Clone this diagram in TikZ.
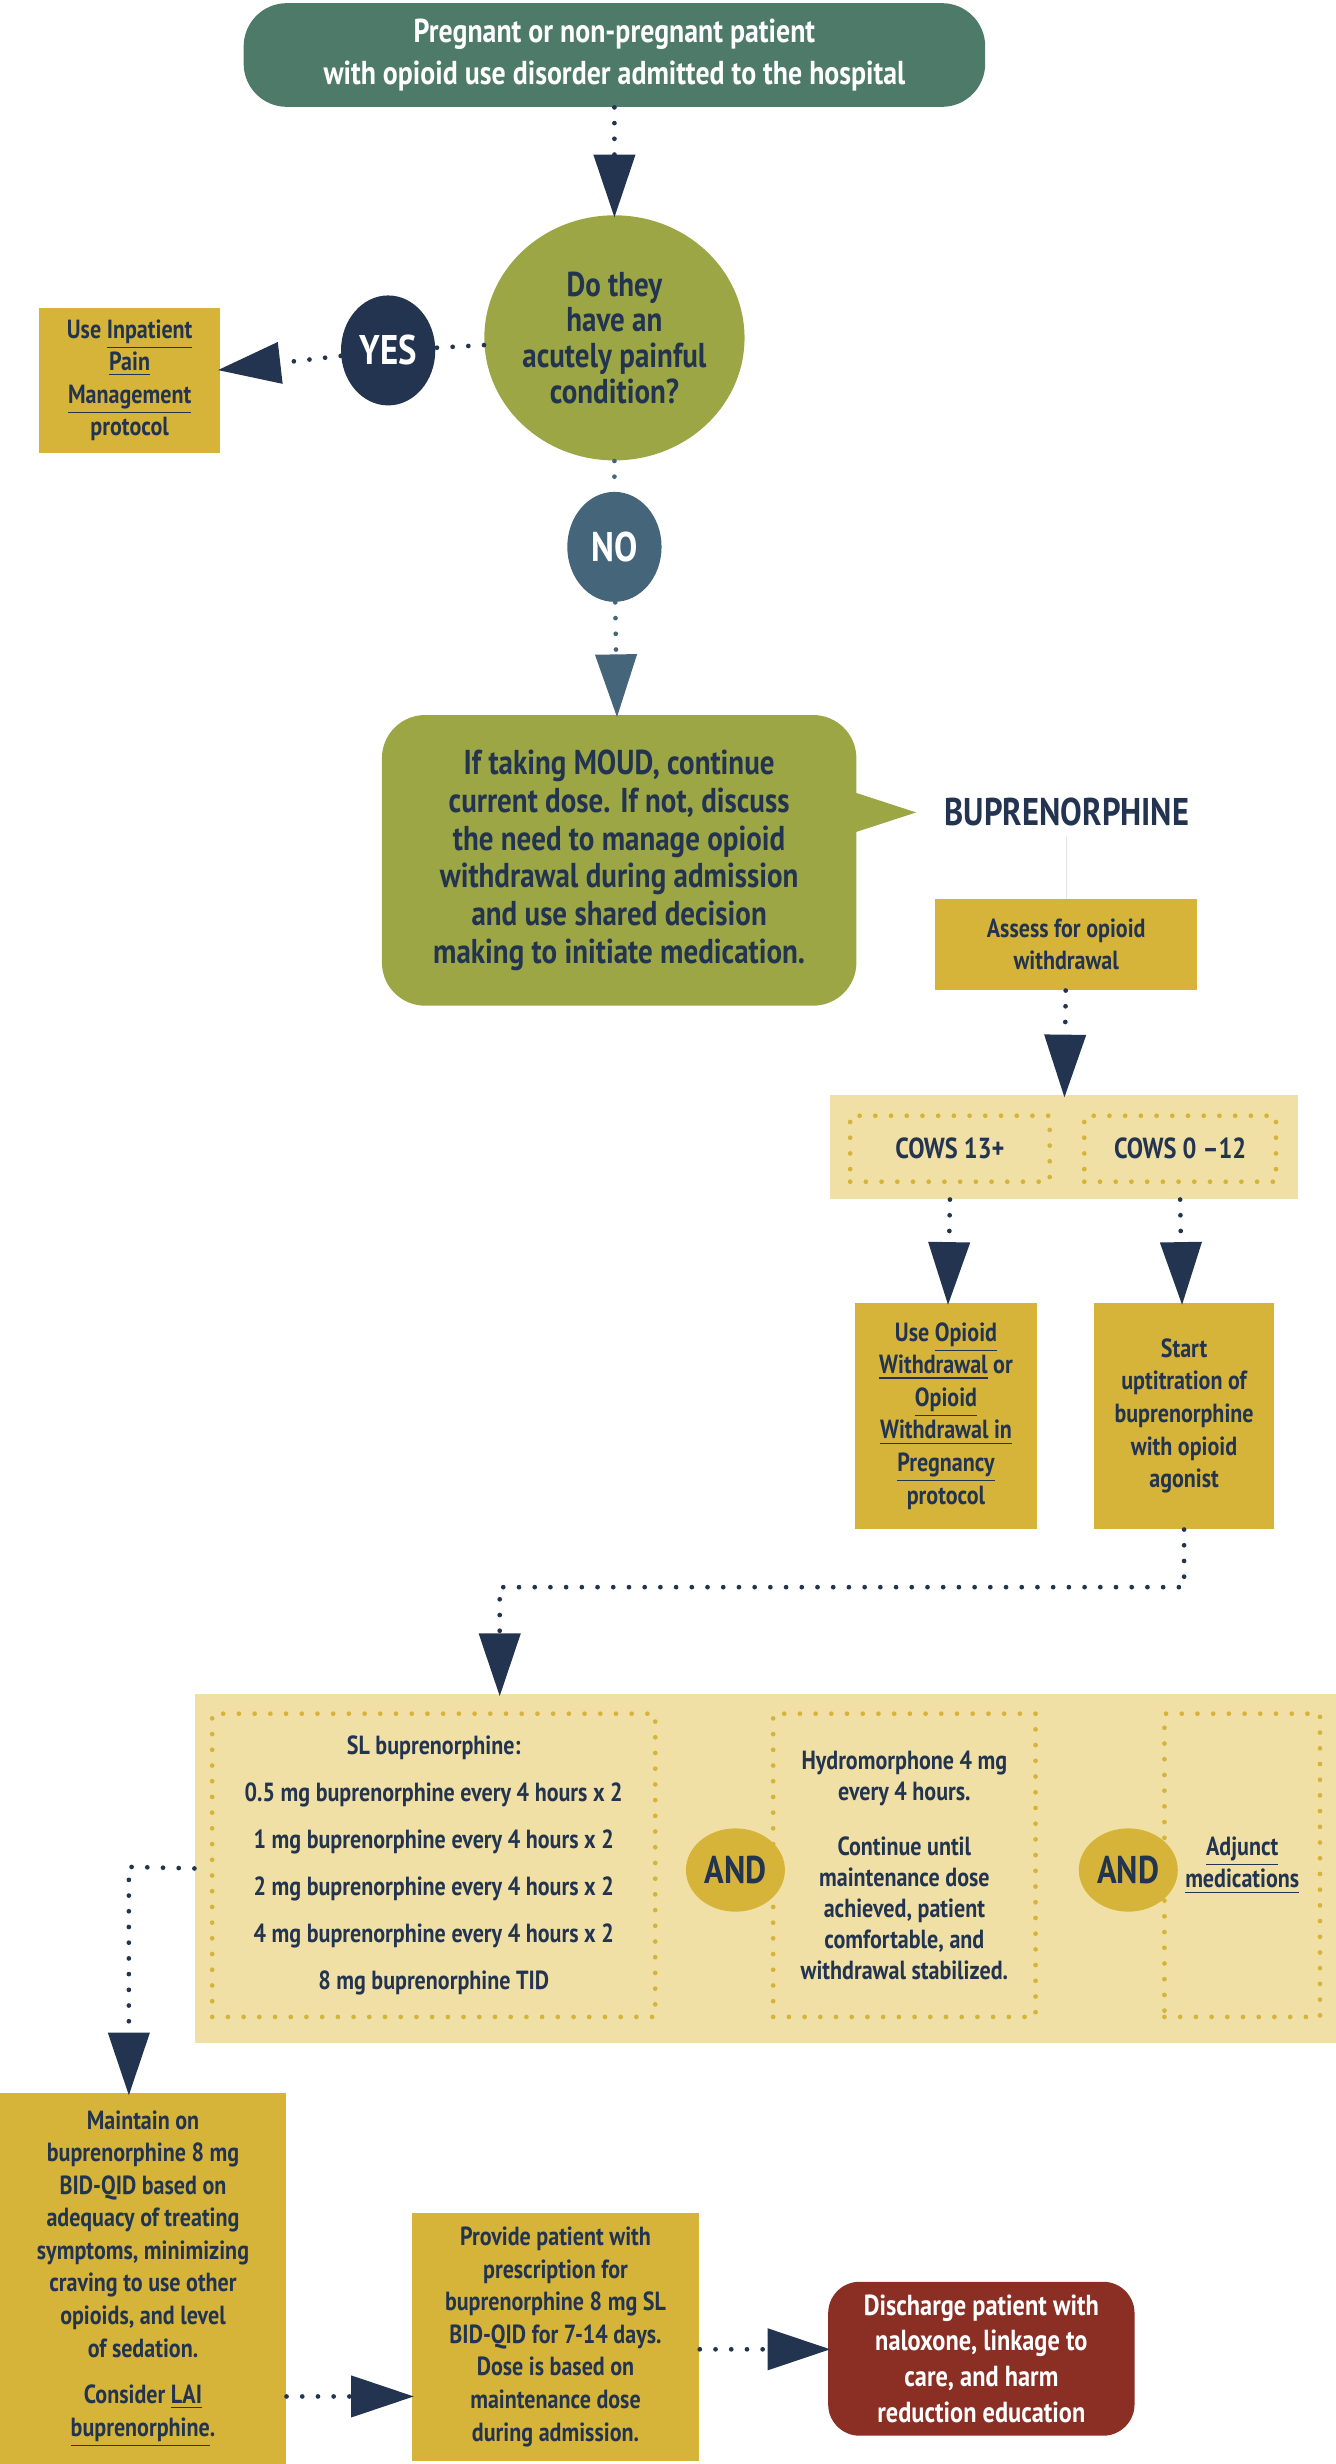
\documentclass[tikz,border=0pt]{standalone}
\usepackage{fontspec}
\setmainfont{PT Sans}[FakeStretch=0.84]
\usetikzlibrary{arrows.meta,shapes.geometric}
\definecolor{navy}{HTML}{22344F}
\definecolor{teal}{HTML}{4E7A6A}
\definecolor{olive}{HTML}{9DA644}
\definecolor{slate}{HTML}{45667A}
\definecolor{gold}{HTML}{D6B43A}
\definecolor{sand}{HTML}{F0E0A6}
\definecolor{rust}{HTML}{8B2E24}
\begin{document}
\begin{tikzpicture}[x=0.02cm,y=-0.02cm,
    font=\bfseries,
    box/.style = {fill=gold, text=navy, align=center, inner sep=2pt,
        font=\bfseries\fontsize{9.5}{11.8}\selectfont},
    round/.style = {rounded corners=0.55cm, align=center},
    oval/.style = {ellipse, inner sep=0pt, align=center},
    dotline/.style = {draw=navy, line width=0.06cm, line cap=round,
        dash pattern=on 0pt off 0.2cm},
    head/.style = {-{Triangle[width=0.52cm,length=0.8cm]}, shorten >=-1pt},
    frame/.style = {draw=gold, line width=0.06cm, line cap=round,
        dash pattern=on 0pt off 0.2cm, inner sep=0pt, align=center,
        font=\bfseries\fontsize{9.5}{17}\selectfont, text=navy}]

\useasboundingbox (0,0) rectangle (850,1568);

% Admission
\node[round, fill=teal, text=white, minimum width=9.44cm, minimum height=1.32cm,
    font=\bfseries\fontsize{12}{15.5}\selectfont] (admit) at (391,35)
    {Pregnant or non-pregnant patient\\with opioid use disorder admitted to the hospital};

% Question
\node[oval, fill=olive, text=navy, minimum width=2.92cm, minimum height=3.12cm,
    font=\bfseries\fontsize{12.5}{13}\selectfont] (pain) at (391,215)
    {Do they\\have an\\acutely painful\\condition?};
\node[oval, fill=navy, text=white, minimum width=1.2cm, minimum height=1.4cm,
    font=\bfseries\fontsize{15}{15}\selectfont] (yes) at (247,223) {YES};
\node[box, minimum width=2.3cm, minimum height=1.84cm] (inpat) at (82.5,242)
    {Use \underline{Inpatient}\\\underline{Pain}\\\underline{Management}\\protocol};
\node[oval, fill=slate, text=white, minimum width=1.2cm, minimum height=1.4cm,
    font=\bfseries\fontsize{15}{15}\selectfont] (no) at (391,348) {NO};

% Callout
\fill[olive] (540,503) -- (583,517) -- (540,531) -- cycle;
\node[round, fill=olive, text=navy, minimum width=6.04cm, minimum height=3.7cm,
    font=\bfseries\fontsize{12.5}{13.7}\selectfont] (moud) at (394,547.5)
    {If taking MOUD, continue\\current dose. If not, discuss\\the need to manage opioid\\withdrawal during admission\\and use shared decision\\making to initiate medication.};

% Buprenorphine branch
\node[text=navy, font=\bfseries\fontsize{14}{14}\selectfont] (bup) at (679,517) {BUPRENORPHINE};
\node[box, minimum width=3.34cm, minimum height=1.16cm] (assess) at (678.5,601)
    {Assess for opioid\\withdrawal};
\node[fill=sand, minimum width=5.96cm, minimum height=1.32cm] (cows) at (677,730) {};
\node[frame, minimum width=2.54cm, minimum height=0.84cm, font=\bfseries\fontsize{10.5}{12}\selectfont] (high) at (604.5,731) {COWS 13+};
\node[frame, minimum width=2.44cm, minimum height=0.84cm, font=\bfseries\fontsize{10.5}{12}\selectfont] (low) at (751,731) {COWS 0 --12};
\node[box, minimum width=2.32cm, minimum height=2.88cm] (wd) at (602,901)
    {Use \underline{Opioid}\\\underline{Withdrawal} or\\\underline{Opioid}\\\underline{Withdrawal in}\\\underline{Pregnancy}\\protocol};
\node[box, minimum width=2.3cm, minimum height=2.88cm] (start) at (753.5,901)
    {Start\\uptitration of\\buprenorphine\\with opioid\\agonist};

% Titration
\node[fill=sand, minimum width=14.52cm, minimum height=4.44cm] (band) at (487,1189) {};
\node[frame, minimum width=5.64cm, minimum height=3.86cm] (sl) at (276,1187)
    {SL buprenorphine:\\0.5 mg buprenorphine every 4 hours x 2\\1 mg buprenorphine every 4 hours x 2\\2 mg buprenorphine every 4 hours x 2\\4 mg buprenorphine every 4 hours x 2\\8 mg buprenorphine TID};
\node[frame, minimum width=3.34cm, minimum height=3.86cm,
    font=\bfseries\fontsize{9.5}{11.2}\selectfont] (hydro) at (575.5,1187)
    {Hydromorphone 4 mg\\every 4 hours.\\[9pt]Continue until\\maintenance dose\\achieved, patient\\comfortable, and\\withdrawal stabilized.};
\node[frame, minimum width=1.98cm, minimum height=3.86cm,
    font=\bfseries\fontsize{9.5}{11.8}\selectfont] (adj) at (790.5,1187)
    {\underline{Adjunct}\\\underline{medications}};
\node[oval, fill=gold, text=navy, minimum width=1.26cm, minimum height=1.06cm,
    font=\bfseries\fontsize{14}{14}\selectfont] (and1) at (468,1190) {AND};
\node[oval, fill=gold, text=navy, minimum width=1.26cm, minimum height=1.06cm,
    font=\bfseries\fontsize{14}{14}\selectfont] (and2) at (718,1190) {AND};

% Discharge
\node[box, minimum width=3.64cm, minimum height=4.72cm] (maint) at (91,1450)
    {Maintain on\\buprenorphine 8 mg\\BID-QID based on\\adequacy of treating\\symptoms, minimizing\\craving to use other\\opioids, and level\\of sedation.\\[5pt]Consider \underline{LAI}\\\underline{buprenorphine}.};
\node[box, minimum width=3.66cm, minimum height=3.16cm] (rx) at (353.5,1487)
    {Provide patient with\\prescription for\\buprenorphine 8 mg SL\\BID-QID for 7-14 days.\\Dose is based on\\maintenance dose\\during admission.};
\node[round, fill=rust, text=white, minimum width=3.9cm, minimum height=1.96cm,
    rounded corners=0.4cm, font=\bfseries\fontsize{10.5}{13}\selectfont] (dis) at (624.5,1501)
    {Discharge patient with\\naloxone, linkage to\\care, and harm\\reduction education};

\coordinate (k1) at (318,1010);
\coordinate (k2) at (82,1188);
\coordinate (k3) at (0,1525);
\coordinate (k4) at (0,1495);

% Connectors
\draw[dotline, head, navy] (admit) -- (pain);
\draw[dotline] (pain) -- (yes);
\draw[dotline, head, navy] (yes) -- (inpat);
\draw[dotline, slate] (pain) -- (no);
\draw[dotline, head, slate] (no) -- (moud);
\draw[head, navy, draw=none, fill=navy] (bup) -- (assess);
\draw[dotline, head, navy] (assess) -- (cows);
\draw[dotline, head, navy] (cows.south -| high) -- (wd);
\draw[dotline, head, navy] (cows.south -| low) -- (start);
\draw[dotline, head, navy] (start) |- (k1) -- (k1 |- band.north);
\draw[dotline, head, navy] (band.west) -- (k2) -- (k2 |- maint.north);
\draw[dotline, head, navy] (maint.east |- k3) -- (rx.west |- k3);
\draw[dotline, head, navy] (rx.east |- k4) -- (dis.west |- k4);

\end{tikzpicture}
\end{document}
